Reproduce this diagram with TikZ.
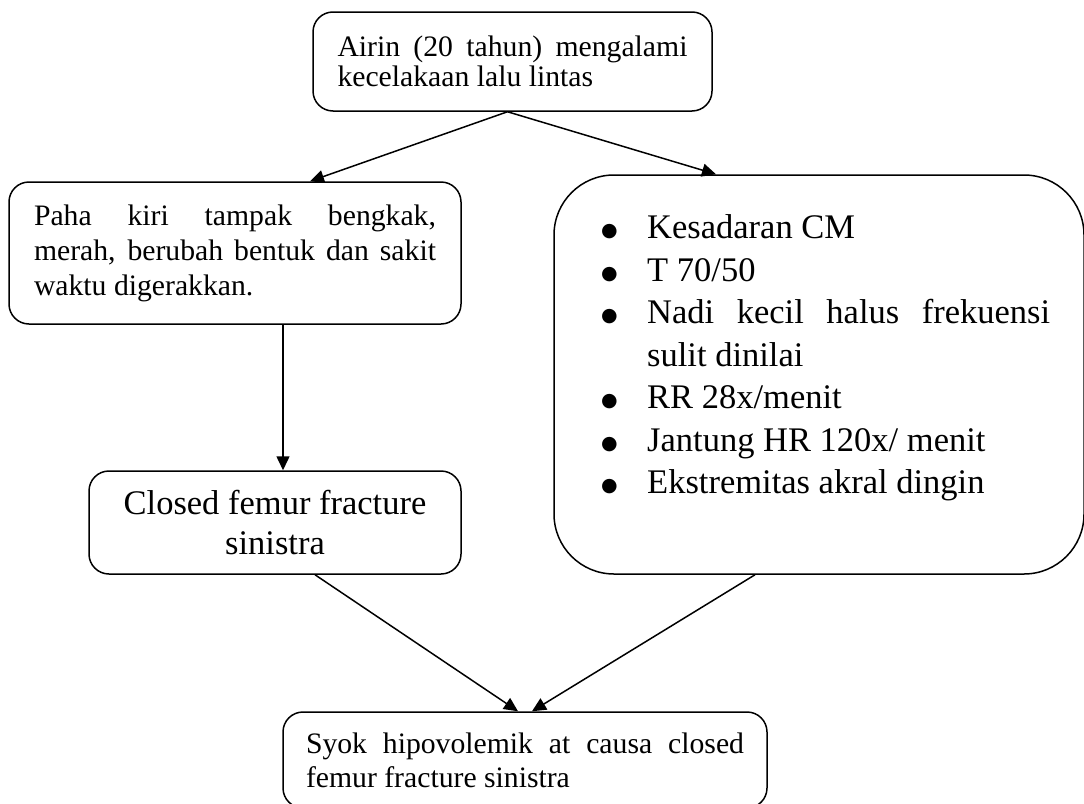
\documentclass[tikz,border=0pt]{standalone}
\RequirePackage{fontspec}
\setmainfont{Liberation Serif}
\newfontfamily\simbol{DejaVu Sans}
\RequirePackage{tikz}
\usetikzlibrary{arrows.meta}

\tolerance=9999
\hyphenpenalty=10000
\newcommand{\butir}[1]{\noindent\hangindent=46pt\hangafter=1\makebox[46pt][l]{\raisebox{2pt}{\simbol\fontsize{19}{19}\selectfont ●}}#1\par}

\begin{document}
\begin{tikzpicture}[x=1pt, y=-1pt,
        kotak/.style={draw, line width=1.5pt, rounded corners=20pt, inner sep=0pt},
        kecil/.style={font=\fontsize{29.7}{35}\selectfont},
        besar/.style={font=\fontsize{34.5}{40}\selectfont},
        panah/.style={line width=1.5pt, -{Triangle[length=14pt, width=13pt]}}]
        \useasboundingbox (0, 0) rectangle (1084, 803);
        \clip (0, 0) rectangle (1084, 803);

        \node[kotak, minimum width=399pt, minimum height=99pt, text width=350pt, align=justify, font=\fontsize{29.7}{30}\selectfont] (kejadian) at (512.5, 61.5) {Airin (20 tahun) mengalami\linebreak kecelakaan lalu lintas};
        \node[kotak, kecil, minimum width=452pt, minimum height=142pt, text width=402pt, align=justify] (paha) at (235, 253) {Paha kiri tampak bengkak,\linebreak merah, berubah bentuk dan sakit\linebreak waktu digerakkan.};
        \node[kotak, besar, minimum width=372pt, minimum height=103pt, align=center] (closed) at (275, 522.5) {Closed femur fracture\\sinistra};
        \node[kotak, rounded corners=60pt, minimum width=530pt, minimum height=399pt] (tanda) at (819, 374.5) {};
        \node[inner sep=0pt, anchor=north west, text width=449pt, align=justify, font=\fontsize{34.5}{42.5}\selectfont] (tandaisi) at (601, 214.4) {\butir{Kesadaran CM}\butir{T 70/50}\butir{Nadi kecil halus frekuensi\linebreak sulit dinilai}\butir{RR 28x/menit}\butir{Jantung HR 120x/ menit}\butir{Ekstremitas akral dingin}};
        \node[kotak, font=\fontsize{29.7}{34}\selectfont, minimum width=484pt, minimum height=96pt, text width=438pt, align=justify] (akhir) at (525, 760) {Syok hipovolemik at causa closed\linebreak femur fracture sinistra};

        \draw[panah] ([xshift=-5pt]kejadian.south) -- ([xshift=75pt]paha.north);
        \draw[panah] ([xshift=-5pt]kejadian.south) -- ([xshift=-103pt]tanda.north);
        \draw[panah] ([xshift=48pt]paha.south) -- ([xshift=8pt]closed.north);
        \draw[panah] ([xshift=40pt]closed.south) -- ([xshift=-7pt]akhir.north);
        \draw[panah] ([xshift=-64pt]tanda.south) -- ([xshift=7pt]akhir.north);
    \end{tikzpicture}
\end{document}
